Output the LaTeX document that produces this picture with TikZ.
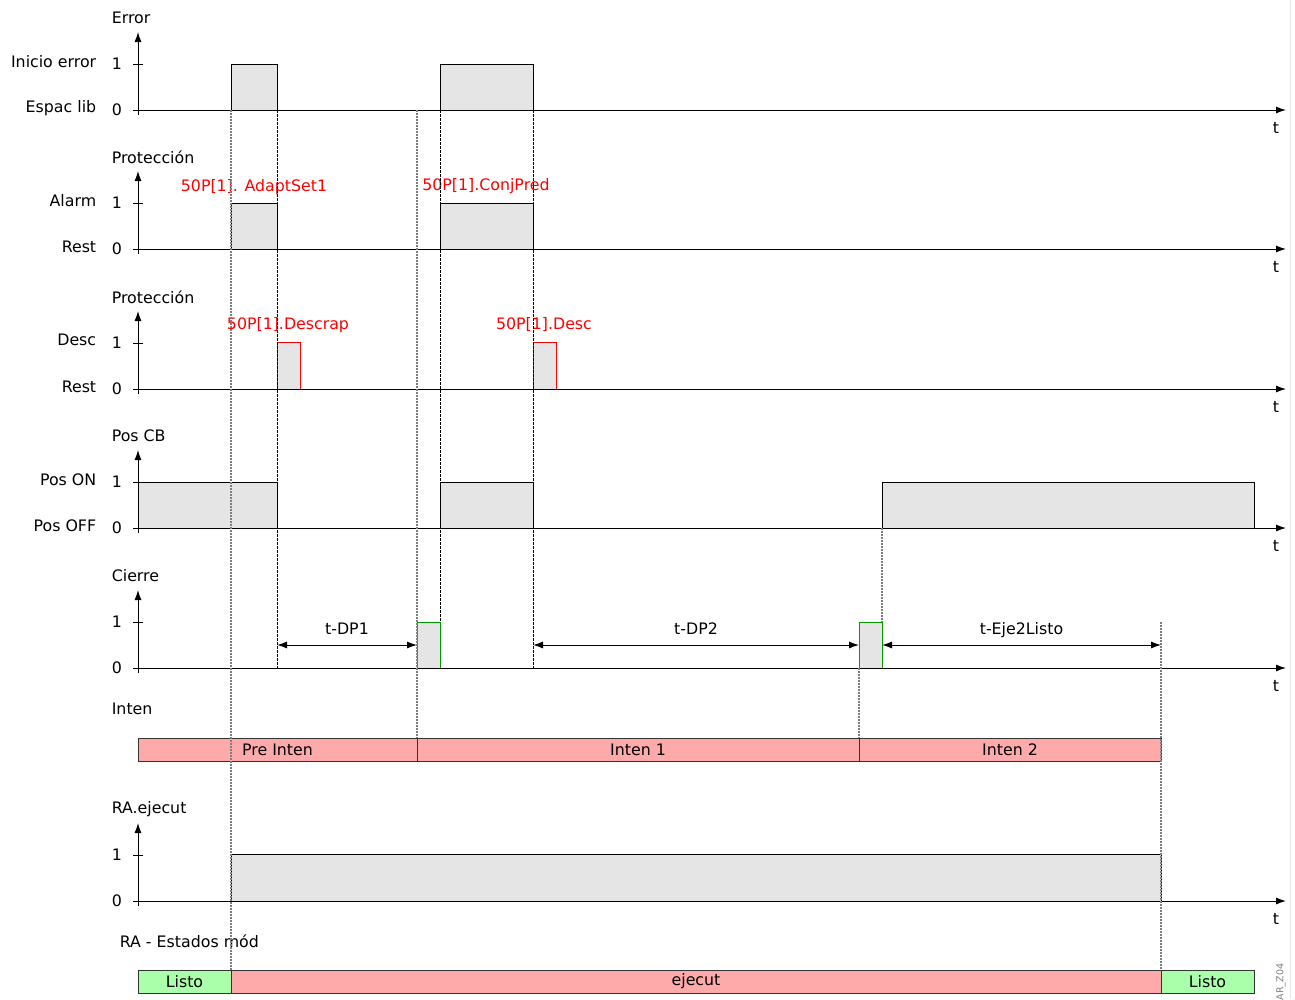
\documentclass[tikz,border=0pt]{standalone}
\usepackage{fontspec}
\setmainfont{DejaVu Sans}
\usetikzlibrary{arrows.meta}
\definecolor{pulsegray}{HTML}{E5E5E5}
\definecolor{statered}{HTML}{FFAAAA}
\definecolor{stategreen}{HTML}{AAFFAA}
\definecolor{guidegray}{HTML}{7F7F7F}
\definecolor{framegray}{HTML}{E6E6E6}

\begin{document}
\begin{tikzpicture}[x=1pt,y=-1pt,font=\fontsize{15.8}{18}\selectfont,line width=1pt,
  tip/.style={-{Latex[length=10pt,width=7pt]}},
  dim/.style={{Latex[length=10pt,width=7pt]}-{Latex[length=10pt,width=7pt]}},
  pulse/.style={draw=black,fill=pulsegray},
  redpulse/.style={draw=red,fill=pulsegray},
  greenpulse/.style={draw=green!60!black,fill=pulsegray},
  redstate/.style={draw=black!80,fill=statered},
  greenstate/.style={draw=black!80,fill=stategreen},
  guide/.style={guidegray,dash pattern=on 2pt off 1pt,line width=1.1pt},
  darkguide/.style={black,dash pattern=on 2.5pt off 1.5pt,line width=0.8pt},
  sig/.style={red},
  lvl/.style={anchor=east}]
\useasboundingbox (0,0) rectangle (1295,999);
\draw[framegray] (1290,0) -- (1290,999);

% pulses
\draw[pulse] (231,64) rectangle (277,110);
\draw[pulse] (440,64) rectangle (533,110);
\draw[pulse] (231,203) rectangle (277,249);
\draw[pulse] (440,203) rectangle (533,249);
\draw[redpulse] (277,342) rectangle (300,389);
\draw[redpulse] (533,342) rectangle (556,389);
\draw[pulse] (138,482) rectangle (277,528);
\draw[pulse] (440,482) rectangle (533,528);
\draw[pulse] (882,482) rectangle (1254,528);
\draw[greenpulse] (417,622) rectangle (440,668);
\draw[greenpulse] (859,622) rectangle (882,668);
\draw[pulse] (231,854) rectangle (1161,901);

% state bars
\draw[redstate] (138,738) rectangle node (pre) {Pre Inten} (417,761);
\draw[redstate] (417,738) rectangle node (int1) {Inten 1} (859,761);
\draw[redstate] (859,738) rectangle node (int2) {Inten 2} (1161,761);
\draw[greenstate] (138,970) rectangle node (rdy1) {Listo} (231,993);
\draw[redstate] (231,970) rectangle node (run) {ejecut} (1161,993);
\draw[greenstate] (1161,970) rectangle node (rdy2) {Listo} (1254,993);

% axes
\foreach \y/\title in {110/Error,249/Protección,389/Protección,528/Pos CB,668/Cierre,901/RA.ejecut} {
  \draw[tip] (133,\y) -- (1286,\y);
  \draw[tip] (138,\y+5) -- (138,\y-78);
  \draw (133,\y-46) -- (143,\y-46);
  \node[anchor=west] (ttl\y) at (108,\y-92) {\title};
  \node (zero\y) at (117,\y) {0};
  \node (one\y) at (117,\y-46) {1};
  \node (t\y) at (1276,\y+18) {t};
}
\node[anchor=west] (ttlInten) at (108,709) {Inten};
\node[anchor=west] (ttlStates) at (116,941) {RA - Estados mód};

% level names
\node[lvl] (lvlA) at (100,62) {Inicio error};
\node[lvl] (lvlB) at (100,108) {Espac lib};
\node[lvl] (lvlC) at (100,201) {Alarm};
\node[lvl] (lvlD) at (100,247) {Rest};
\node[lvl] (lvlE) at (100,340) {Desc};
\node[lvl] (lvlF) at (100,387) {Rest};
\node[lvl] (lvlG) at (100,480) {Pos ON};
\node[lvl] (lvlH) at (100,526) {Pos OFF};

% signal names
\node[sig] (sgA) at (254,187) {50P[1]. AdaptSet1};
\node[sig] (sgB) at (486,186) {50P[1].ConjPred};
\node[sig] (sgC) at (288,325) {50P[1].Descrap};
\node[sig] (sgD) at (544,325) {50P[1].Desc};

% guide lines
\draw[guide] (231,110) -- (231,970);
\draw[darkguide] (277,110) -- (277,668);
\draw[guide] (417,110) -- (417,738);
\draw[darkguide] (440,110) -- (440,622);
\draw[darkguide] (533,110) -- (533,668);
\draw[guide] (859,668) -- (859,738);
\draw[guide] (882,528) -- (882,622);
\draw[guide] (1161,622) -- (1161,970);

% times
\coordinate (dp1a) at (277,645);
\coordinate (dp1b) at (417,645);
\coordinate (dp2a) at (533,645);
\coordinate (dp2b) at (859,645);
\coordinate (rdya) at (882,645);
\coordinate (rdyb) at (1161,645);
\draw[dim] (dp1a) -- (dp1b) node[pos=0.5,yshift=11pt,anchor=base] (tdp1) {t-DP1};
\draw[dim] (dp2a) -- (dp2b) node[pos=0.5,yshift=11pt,anchor=base] (tdp2) {t-DP2};
\draw[dim] (rdya) -- (rdyb) node[pos=0.5,yshift=11pt,anchor=base] (trdy) {t-Eje2Listo};

\node[rotate=90,anchor=west,text=black!50,font=\fontsize{9.5}{11}\selectfont] (tag) at (1281,1004) {AR\_Z04};
\end{tikzpicture}
\end{document}
